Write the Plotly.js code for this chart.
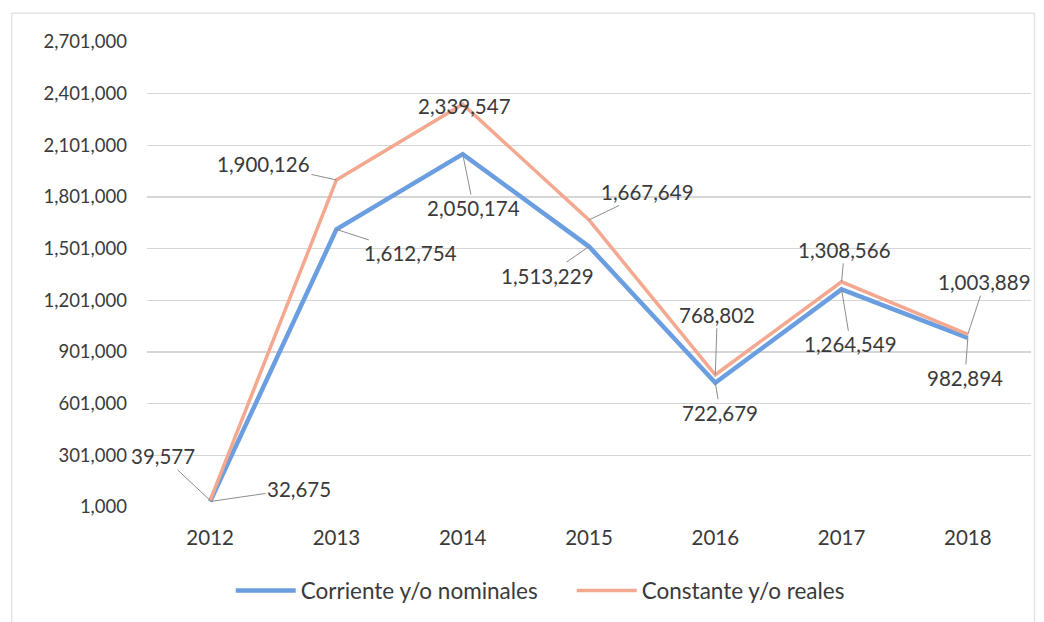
<!DOCTYPE html>
<html>
<head>
<meta charset="utf-8">
<script src="https://cdn.plot.ly/plotly-3.0.1.min.js"></script>
<style>html,body{margin:0;padding:0;background:#fff;}#chart{width:1044px;height:622px;}</style>
</head>
<body>
<div id="chart"></div>
<script>
const years = ["2012","2013","2014","2015","2016","2017","2018"];
const corriente = [32675, 1612754, 2050174, 1513229, 722679, 1264549, 982894];
const constante = [39577, 1900126, 2339547, 1667649, 768802, 1308566, 1003889];
const tickVals = [1000, 301000, 601000, 901000, 1201000, 1501000, 1801000, 2101000, 2401000, 2701000];
const tickText = ["1,000","301,000","601,000","901,000","1,201,000","1,501,000","1,801,000","2,101,000","2,401,000","2,701,000"];
const seriesNames = ["Corriente y/o nominales", "Constante y/o reales"];
// label offsets (px) for the data labels
const offCorr = [[89,-13],[74,24],[11,54],[-42,29],[5,30],[9,55],[-3,40]];
const offCons = [[-47,-44],[-73,-16],[2,2],[58,-28],[2,-60],[3,-32],[17,-52]];

const fmt = v => v.toLocaleString('en-US');
const fam = "Lato, 'Open Sans', sans-serif";
const col = "#3a3a3a";
const labelFont = {family: fam, size: 20.5, color: col};
const yFont = {family: fam, size: 18.5, color: col};
const xFont = {family: fam, size: 20.5, color: col};
const legFont = {family: fam, size: 22.5, color: col};

const annotations = [];
function addLabels(vals, offs) {
  vals.forEach((v, i) => {
    const [ax, ay] = offs[i];
    const near = Math.abs(ax) < 6 && Math.abs(ay) < 6;
    annotations.push({
      x: i, y: v, xref: 'x', yref: 'y',
      text: fmt(v), font: labelFont,
      showarrow: true, arrowhead: 0, arrowwidth: 1, arrowcolor: near ? 'rgba(0,0,0,0)' : '#8c8c8c',
      ax: ax, ay: ay, standoff: 0
    });
  });
}
addLabels(corriente, offCorr);
addLabels(constante, offCons);

const data = [
  {x: years, y: corriente, type: 'scatter', mode: 'lines', name: seriesNames[0],
   line: {color: '#6b9ee0', width: 4.5}},
  {x: years, y: constante, type: 'scatter', mode: 'lines', name: seriesNames[1],
   line: {color: '#f3a88f', width: 3.5}}
];

const layout = {
  width: 1044, height: 622,
  margin: {l: 147, r: 13, t: 42, b: 115},
  paper_bgcolor: '#ffffff', plot_bgcolor: '#ffffff',
  font: labelFont,
  showlegend: true,
  legend: {orientation: 'h', xref: 'container', yref: 'container', x: 0.221, xanchor: 'left',
           y: 0.05, yanchor: 'middle',
           font: legFont, traceorder: 'normal', itemwidth: 60, entrywidth: 266},
  xaxis: {type: 'category', range: [-0.5, 6.5], autorange: false, showgrid: false, zeroline: false, showline: false,
          ticks: '', tickfont: xFont, ticklabelstandoff: 16, fixedrange: true},
  yaxis: {range: [1000, 2701000], autorange: false, tickvals: tickVals, ticktext: tickText,
          showgrid: true, gridcolor: '#d6d6d6', gridwidth: 1.3, zeroline: false, showline: false,
          ticks: '', tickfont: yFont, ticklabelstandoff: 19, fixedrange: true},
  annotations: annotations,
  shapes: [
    {type: 'rect', xref: 'paper', yref: 'paper', x0: -0.153, x1: 1.004, y0: -0.26, y1: 1.062,
     line: {color: '#e4e4e4', width: 1.5}, fillcolor: 'rgba(0,0,0,0)', layer: 'below'}
  ]
};

Plotly.newPlot('chart', data, layout, {displayModeBar: false, staticPlot: true});
</script>
</body>
</html>
